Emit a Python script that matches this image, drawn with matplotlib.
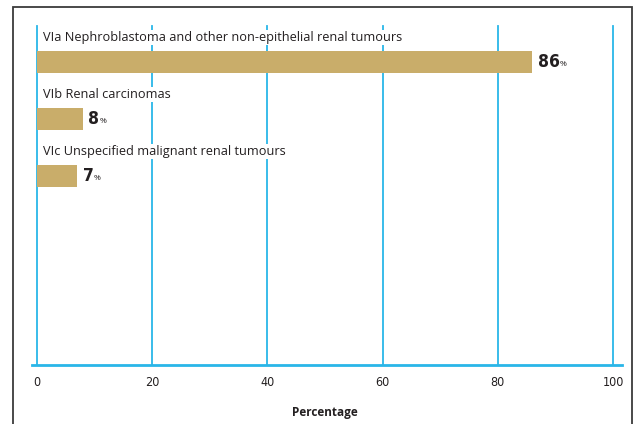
import matplotlib
matplotlib.use('Agg')
import matplotlib.pyplot as plt
from matplotlib.patches import Rectangle
from matplotlib.lines import Line2D

categories = ['VIa Nephroblastoma and other non-epithelial renal tumours',
              'VIb Renal carcinomas',
              'VIc Unspecified malignant renal tumours']
values = [86, 8, 7]
xticks = [0, 20, 40, 60, 80, 100]

bar_color = '#c9ad6a'
grid_color = '#29b6e8'
text_color = '#231f20'

plt.rcParams['font.family'] = ['Open Sans', 'DejaVu Sans']

fig = plt.figure(figsize=(6.37, 4.24), dpi=100)
ax = fig.add_axes([37 / 637, 59 / 424, 576 / 637, 339 / 424])

# outer frame
fig.patches.append(Rectangle((13 / 637, -0.05), 619 / 637, 1.05 - 7 / 424,
                             transform=fig.transFigure, fill=False,
                             edgecolor='#3a3a3a', linewidth=1.3))

for x in xticks:
    ax.axvline(x, color=grid_color, linewidth=1.3, zorder=0, clip_on=False)

pos = list(range(len(values)))
ax.barh(pos, values, height=0.386, color=bar_color, zorder=2)

for i, (cat, v) in enumerate(zip(categories, values)):
    ax.text(1, i - 0.43, cat, fontsize=9.2, color=text_color, va='center',
            bbox=dict(facecolor='white', edgecolor='none', pad=1), zorder=3)
    num = ax.text(v + 0.9, i, str(v), fontsize=12.5, fontweight='bold',
                  family='DejaVu Sans', fontstretch='condensed',
                  color=text_color, va='center', zorder=3)
    ax.annotate('%', xy=(1, 0), xycoords=num, xytext=(0.5, 2),
                textcoords='offset points', fontsize=6, color=text_color,
                va='bottom', zorder=3)

ax.set_xlim(0, 100)
ax.set_ylim(5.316, -0.632)
ax.set_xticks(xticks)
ax.set_yticks([])
ax.tick_params(axis='x', length=0, pad=8, labelcolor=text_color)
for lab in ax.get_xticklabels():
    lab.set_fontsize(9)
    lab.set_family('DejaVu Sans')
    lab.set_fontstretch('condensed')
for s in ax.spines.values():
    s.set_visible(False)

ax.add_line(Line2D([-0.009, 1.016], [0, 0], transform=ax.transAxes,
                   color=grid_color, linewidth=2.0, clip_on=False, zorder=1))

ax.set_xlabel('Percentage', fontsize=8.5, fontweight='bold', color=text_color,
              labelpad=12)

fig.savefig('out.png', dpi=100)
